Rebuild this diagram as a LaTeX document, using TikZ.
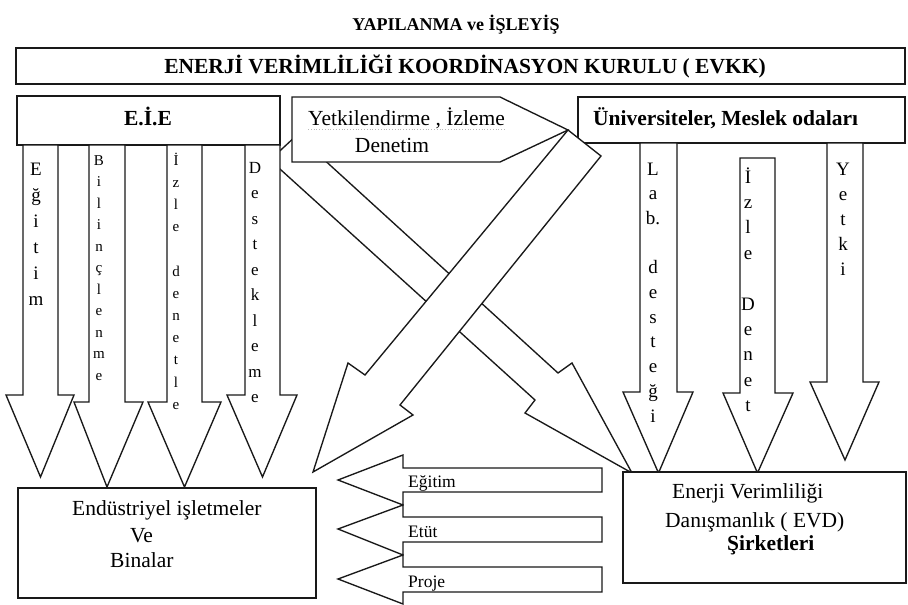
\documentclass[tikz,border=0pt]{standalone}
\usepackage{fontspec}
\setmainfont{Liberation Serif}
\tikzset{
  blk/.style={draw=black!90, line width=1.35pt, fill=white, line join=miter},
  boxn/.style={blk, rectangle, inner sep=0pt, outer sep=0pt},
  txt/.style={inner sep=0pt, font=\fontsize{21.5}{26}\selectfont},
  btxt/.style={inner sep=0pt, font=\bfseries\fontsize{21.5}{26}\selectfont},
  stxt/.style={inner sep=0pt, font=\fontsize{17.5}{20}\selectfont},
  vl/.style={inner sep=0pt}
}
\newcommand\dnarrow[7]{%
  \draw[blk] (#1,#3) -- (#1,#4) -- (#5,#4) -- ({(#1+#2)/2},#7) -- (#6,#4) -- (#2,#4) -- (#2,#3) -- cycle;}
\newcommand\lfarrow[5]{%
  \draw[blk] (602,#1) -- (403,#1) -- (403,#3) -- (338,#5) -- (403,#4) -- (403,#2) -- (602,#2) -- cycle;}
\newcommand\vcol[6]{%
  \foreach \c [count=\i from 0] in {#6} {%
    \node[vl, font=\fontsize{#5}{#5}\selectfont, anchor=base] (#1\i) at (#2,{#3+\i*#4}) {\c};}}
\begin{document}
\begin{tikzpicture}[x=1pt,y=-1pt]
\useasboundingbox (0,0) rectangle (908,605);
\fill[white] (0,0) rectangle (908,605);

% big diagonal arrow A (to EVD)
\draw[blk] (297,135) -- (558,373) -- (572,363) -- (632,473) -- (525,413) -- (535,400) -- (270,160) -- cycle;

% E.I.E box and its arrows
\node[boxn, minimum width=263pt, minimum height=49pt, anchor=north west] (eie) at (17,96) {};
\dnarrow{23}{58}{145}{395}{6}{74}{477}
\dnarrow{89}{125}{145}{402}{74}{143}{487}
\dnarrow{167}{202}{145}{402}{148}{221}{487}
\dnarrow{245}{280}{145}{395}{227}{297}{477}

% callout
\draw[blk] (292,97) -- (500,97) -- (568,130) -- (500,162) -- (292,162) -- cycle;

% Universiteler box
\node[boxn, minimum width=327pt, minimum height=46pt, anchor=north west] (uni) at (578,97) {};

% big diagonal arrow B (to industry)
\draw[blk] (568,130) -- (601,156) -- (400,405) -- (413,415) -- (313,472) -- (348,363) -- (365,375) -- cycle;

% EVKK box
\node[boxn, minimum width=889pt, minimum height=36pt, anchor=north west] (evkk) at (16,48) {};

% right arrows
\dnarrow{640}{677}{143}{392}{623}{693}{473}
\dnarrow{740}{775}{158}{393}{723}{793}{473}
\dnarrow{827}{863}{143}{382}{810}{879}{460}

% bottom boxes
\node[boxn, minimum width=298pt, minimum height=110pt, anchor=north west] (ind) at (18,488) {};
\node[boxn, minimum width=283pt, minimum height=111pt, anchor=north west] (evd) at (623,472) {};

% small left arrows
\lfarrow{468}{492}{455}{505}{480}
\lfarrow{517}{542}{505}{555}{529}
\lfarrow{567}{592}{555}{604}{579}

% texts
\node[inner sep=0pt, font=\bfseries\fontsize{18}{20}\selectfont, anchor=base] (title) at (456,30) {YAPILANMA ve İŞLEYİŞ};
\node[btxt, anchor=base] (evkkt) at (465,73) {ENERJİ VERİMLİLİĞİ KOORDİNASYON KURULU ( EVKK)};
\node[btxt, anchor=base] (eiet) at (148,125) {E.İ.E};
\node[btxt, anchor=base west] (unit) at (593,125) {Üniversiteler, Meslek odaları};
\node[txt, anchor=base west] (yet) at (308,125) {Yetkilendirme , İzleme};
\draw[gray!55, dotted, line width=0.8pt] ([yshift=-4pt]yet.base west) -- ([yshift=-4pt]yet.base east);
\node[txt, anchor=base] (den) at (392,152) {Denetim};

\node[txt, anchor=base west] (ind1) at (72,515) {Endüstriyel işletmeler};
\node[txt, anchor=base west] (ind2) at (130,542) {Ve};
\node[txt, anchor=base west] (ind3) at (110,567) {Binalar};

\node[txt, anchor=base west] (evd1) at (672,498) {Enerji Verimliliği};
\node[txt, anchor=base west] (evd2) at (665,527) {Danışmanlık ( EVD)};
\node[btxt, anchor=base west] (evd3) at (727,550) {Şirketleri};

\node[stxt, anchor=base west] (s1) at (408,487) {Eğitim};
\node[stxt, anchor=base west] (s2) at (408,537) {Etüt};
\node[stxt, anchor=base west] (s3) at (408,587) {Proje};

% vertical letters
\vcol{ega}{36}{175}{26}{19}{E,ğ,i,t,i,m}
\vcol{bil}{99}{165}{21.5}{15}{B,i,l,i,n,ç,l,e,n,m,e}
\vcol{izl}{176}{165}{22.2}{15}{İ,z,l,e,{},d,e,n,e,t,l,e}
\vcol{des}{255}{173}{25.5}{17}{D,e,s,t,e,k,l,e,m,e}
\vcol{lab}{653}{175}{24.7}{19}{L,a,b.,{},d,e,s,t,e,ğ,i}
\vcol{izd}{748}{183}{25.4}{19}{İ,z,l,e,{},D,e,n,e,t}
\vcol{yet}{843}{175}{25}{19}{Y,e,t,k,i}
\end{tikzpicture}
\end{document}
